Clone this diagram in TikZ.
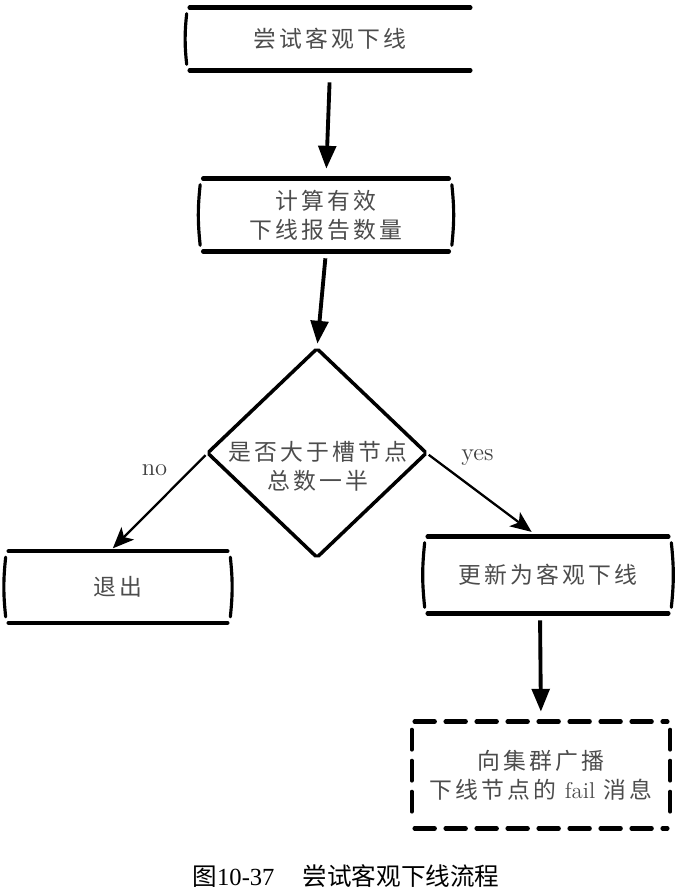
\documentclass[tikz,border=0pt]{standalone}
\usepackage{fontspec}
\newfontfamily\cjk[LetterSpace=14]{Noto Sans CJK SC}
\newfontfamily\capfont{Noto Sans CJK SC}
\newfontfamily\capnum{Liberation Serif}
\usetikzlibrary{arrows.meta,shapes.geometric}

\begin{document}
\begin{tikzpicture}[x=0.02cm,y=-0.02cm,
  every node/.style={font=\cjk\fontsize{13}{16.5}\selectfont,text=black!70},
  box/.style={rectangle,inner sep=0pt,align=center},
  rim/.style={line width=2.5pt,line cap=round},
  side/.style={line width=1.8pt,line cap=round},
  flow/.style={line width=2.2pt,-{Triangle[width=10pt,length=13pt]}},
  branch/.style={line width=1.3pt,-{Stealth[width=10pt,length=12pt,inset=3pt]}},
  tag/.style={font=\rmfamily\fontsize{14}{16}\selectfont,text=black!75}]
\useasboundingbox (0,0) rectangle (677,893);
% steps
\node[box,minimum width=5.6cm,minimum height=1.24cm] (try) at (330,39) {尝试客观下线};
\node[box,minimum width=4.9cm,minimum height=1.44cm] (count) at (326,215) {计算有效\\下线报告数量};
\node[diamond,inner sep=0pt,minimum width=4.36cm,minimum height=4.16cm] (check) at (317,453) {};
\node[box] (checktxt) at (318,466) {是否大于槽节点\\总数一半};
\node[box,minimum width=4.36cm,minimum height=1.42cm] (quit) at (118,587) {退出};
\node[box,minimum width=4.8cm,minimum height=1.52cm] (mark) at (548,575) {更新为客观下线};
\node[box,minimum width=5.04cm,minimum height=2.12cm] (bcast) at (541,775) {向集群广播\\下线节点的 {\rmfamily fail} 消息};
\node[font=\capfont\fontsize{14}{16}\selectfont,text=black] (caption) at (346,876) {图{\capnum 10-37}\hspace{16pt}尝试客观下线流程};
% sketchy box outlines
\foreach \n in {try,count,quit,mark}{
  \draw[rim] (\n.north west) -- (\n.north east);
  \draw[rim] (\n.south west) -- (\n.south east);
  \draw[side] ([shift={(-3,6)}]\n.north west) to[bend right=6] ([shift={(-3,-6)}]\n.south west);
}
\foreach \n in {count,quit,mark}
  \draw[side] ([shift={(3,6)}]\n.north east) to[bend left=6] ([shift={(3,-6)}]\n.south east);
\begin{scope}[dash pattern=on 0.4cm off 0.22cm]
\draw[rim] (bcast.north west) -- (bcast.north east);
\draw[rim] (bcast.south west) -- (bcast.south east);
\draw[side,line width=2.2pt] ([shift={(-3,8)}]bcast.north west) -- ([shift={(-3,-8)}]bcast.south west);
\draw[side,line width=2.2pt] ([shift={(3,8)}]bcast.north east) -- ([shift={(3,-8)}]bcast.south east);
\end{scope}
% decision
\foreach \a/\b in {north/east,east/south,south/west,west/north}
  \draw[rim,line width=2pt,shorten <=1pt,shorten >=1pt] (check.\a) -- (check.\b);
% arrows
\draw[flow,shorten <=0.24cm,shorten >=0.2cm] (try.south) -- (count.north);
\draw[flow,shorten <=0.14cm,shorten >=0.1cm] (count.south) -- (check.north);
\draw[branch,shorten <=0.06cm,shorten >=0.08cm] (check.west) -- ([shift={(-8,0)}]quit.north)
  node[tag,pos=.35,shift={(-19,-17)}] {no};
\draw[branch,shorten <=0.06cm,shorten >=0.16cm] (check.east) -- ([shift={(-10,0)}]mark.north)
  node[tag,pos=.35,shift={(12,-25)}] {yes};
\draw[flow,shorten <=0.14cm,shorten >=0.2cm] ([shift={(-8,0)}]mark.south) -- (bcast.north);
\end{tikzpicture}
\end{document}
